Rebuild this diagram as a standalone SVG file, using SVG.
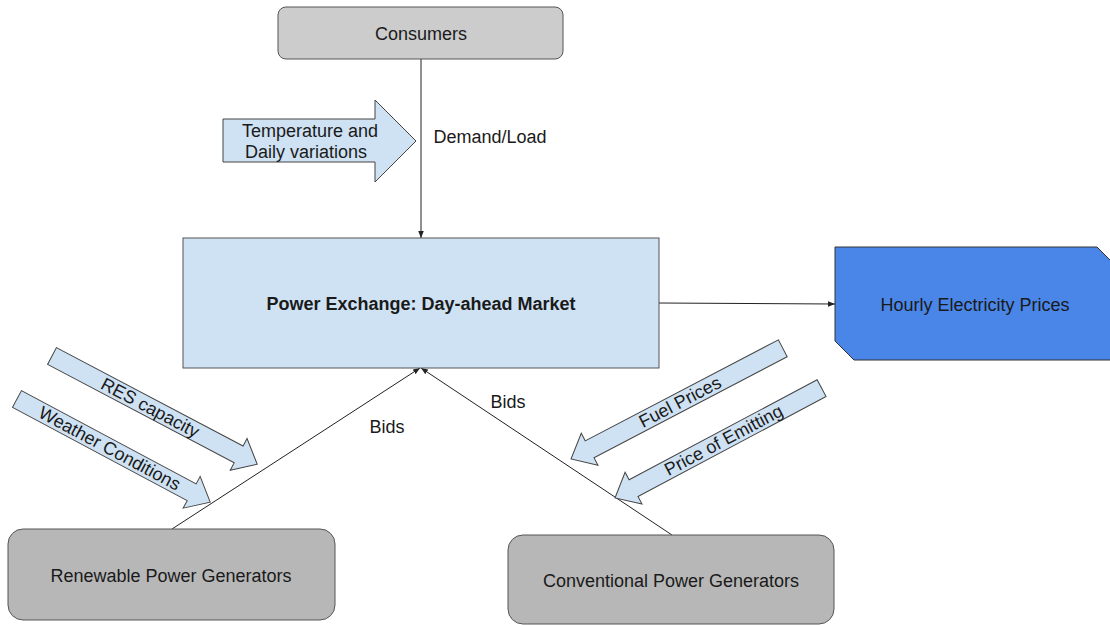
<svg xmlns="http://www.w3.org/2000/svg" width="1110" height="625" viewBox="0 0 1110 625">
<style>
  .t{font-family:"Liberation Sans",Arial,sans-serif;font-size:18px;fill:#1a1a1a;text-anchor:middle;dominant-baseline:central}
  .b{font-weight:bold}
  .conn{stroke:#222;stroke-width:1;fill:none}
  .blk{fill:#cfe2f3;stroke:#444;stroke-width:1}
  .gray{stroke:#555;stroke-width:1}
</style>
<defs>
  <marker id="ah" viewBox="0 0 10 10" refX="10" refY="5" markerWidth="7" markerHeight="7" orient="auto" markerUnits="userSpaceOnUse">
    <path d="M0,1 L10,5 L0,9 z" fill="#222"/>
  </marker>
</defs>
<rect width="1110" height="625" fill="#fff"/>

<g id="connectors">
  <line class="conn" x1="421" y1="59" x2="421" y2="238" marker-end="url(#ah)"/>
  <line class="conn" x1="659" y1="303" x2="835" y2="304" marker-end="url(#ah)"/>
  <line class="conn" x1="172" y1="529" x2="420" y2="368" marker-end="url(#ah)"/>
  <line class="conn" x1="672" y1="535" x2="421" y2="368" marker-end="url(#ah)"/>
  <text class="t" x="490" y="137">Demand/Load</text>
  <text class="t" x="387" y="427">Bids</text>
  <text class="t" x="508" y="402">Bids</text>
</g>

<g id="consumers">
  <rect class="gray" x="278" y="7" width="285" height="52" rx="8" fill="#cccccc"/>
  <text class="t" x="421" y="34">Consumers</text>
</g>

<g id="power-exchange">
  <rect x="183" y="238" width="476" height="130" fill="#cfe2f3" stroke="#555" stroke-width="1"/>
  <text class="t b" x="421" y="304">Power Exchange: Day-ahead Market</text>
</g>

<g id="hourly-prices">
  <polygon points="835,247 1097,247 1113,263 1113,360 854,360 835,341" fill="#4a86e8" stroke="#333" stroke-width="1"/>
  <text class="t" x="975" y="305">Hourly Electricity Prices</text>
</g>

<g id="renewable">
  <rect class="gray" x="8" y="529" width="327" height="91" rx="15" fill="#b7b7b7"/>
  <text class="t" x="171" y="576">Renewable Power Generators</text>
</g>

<g id="conventional">
  <rect class="gray" x="508" y="535" width="326" height="89" rx="15" fill="#b7b7b7"/>
  <text class="t" x="671" y="581">Conventional Power Generators</text>
</g>

<g id="temperature">
  <polygon class="blk" points="223,119 375,119 375,100 416,141 375,182 375,162 223,162"/>
  <text class="t" x="310" y="131">Temperature and</text>
  <text class="t" x="306" y="152">Daily variations</text>
</g>

<g id="res-capacity" transform="translate(52,356) rotate(27.8)">
  <polygon class="blk" points="0,-9.5 211,-9.5 211,-18 232,0 211,18 211,9.5 0,9.5"/>
  <text class="t" x="111" y="0">RES capacity</text>
</g>

<g id="weather" transform="translate(17,399) rotate(28.1)">
  <polygon class="blk" points="0,-9.5 198,-9.5 198,-18 219,0 198,18 198,9.5 0,9.5"/>
  <text class="t" x="105" y="0">Weather Conditions</text>
</g>

<g id="fuel-prices" transform="translate(571,459) rotate(-27.6)">
  <polygon class="blk" points="0,0 21,-18 21,-9.5 239,-9.5 239,9.5 21,9.5 21,18"/>
  <text class="t" x="123" y="0">Fuel Prices</text>
</g>

<g id="price-emitting" transform="translate(615,498) rotate(-28)">
  <polygon class="blk" points="0,0 21,-18 21,-9.5 234,-9.5 234,9.5 21,9.5 21,18"/>
  <text class="t" x="123" y="0">Price of Emitting</text>
</g>
</svg>
